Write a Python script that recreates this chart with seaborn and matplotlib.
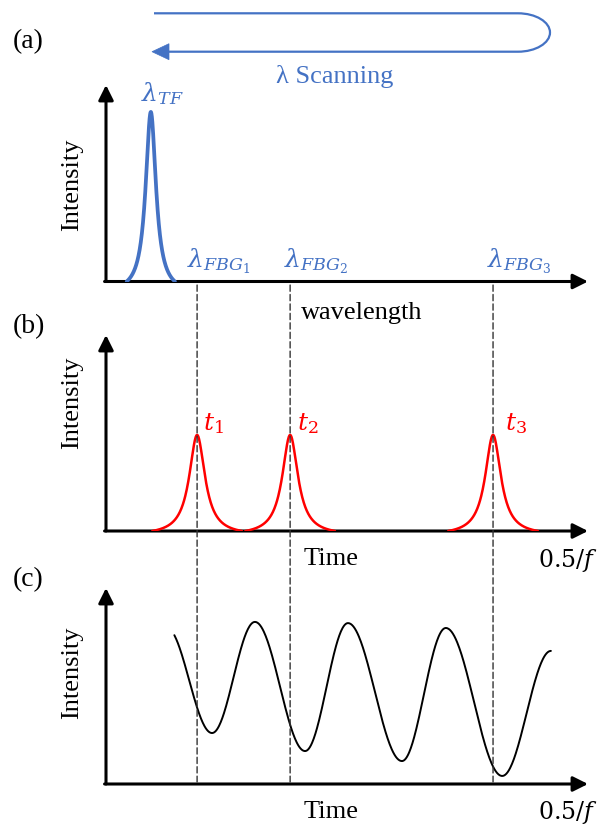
import numpy as np
import matplotlib
matplotlib.use("Agg")
import matplotlib.pyplot as plt
import seaborn as sns
from matplotlib.patches import FancyArrowPatch, ConnectionPatch, PathPatch, Polygon
from matplotlib.path import Path
from matplotlib.transforms import Affine2D

# ---------------- data (x: fraction of the 0 .. 0.5/f sweep, y: relative intensity) -------------
tf_center = 0.093          # tunable-filter wavelength position in panel (a)
tf_height = 0.863
tf_hwhm = 0.013
tf_span = 0.050

fbg_positions = [0.189, 0.382, 0.803]
fbg_labels = [r"$\lambda_{FBG_1}$", r"$\lambda_{FBG_2}$", r"$\lambda_{FBG_3}$"]

peak_times = [0.189, 0.382, 0.803]
peak_labels = [r"$t_1$", r"$t_2$", r"$t_3$"]
peak_height = 0.49
peak_hwhm = 0.0197
peak_span = 0.093

# extrema of the interference signal in panel (c) (first one lies just before the visible start)
wave_x = [0.125, 0.220, 0.309, 0.413, 0.502, 0.614, 0.705, 0.822, 0.923]
wave_y = [0.800, 0.260, 0.827, 0.168, 0.821, 0.117, 0.796, 0.041, 0.679]
wave_start = 0.141

panel_tags = ["(a)", "(b)", "(c)"]
x_label_a = "wavelength"
x_label_bc = "Time"
x_end_label = r"$0.5/f$"
y_label = "Intensity"
scan_label = "λ Scanning"
tf_label = r"$\lambda_{TF}$"

BLUE = "#4472C4"
RED = "#FF0000"

# ---------------- helpers -------------
def lorentz_peak(center, height, hwhm, span, n=300):
    x = np.linspace(center - span, center + span, n)
    L = 1.0 / (1.0 + ((x - center) / hwhm) ** 2)
    Lend = 1.0 / (1.0 + (span / hwhm) ** 2)
    return x, height * (L - Lend) / (1.0 - Lend)


def cosine_path(xs, ys, n=80):
    X, Y = [], []
    for i in range(len(xs) - 1):
        t = np.linspace(0, 1, n)
        X.append(xs[i] + (xs[i + 1] - xs[i]) * t)
        Y.append(ys[i] + (ys[i + 1] - ys[i]) * (1 - np.cos(np.pi * t)) / 2)
    X = np.concatenate(X)
    Y = np.concatenate(Y)
    return X, Y


sns.set_theme(style="white")
plt.rcParams["font.family"] = ["Liberation Serif", "DejaVu Serif"]
plt.rcParams["mathtext.fontset"] = "dejavuserif"
plt.rcParams["text.color"] = "black"

W, H = 602, 831
fig = plt.figure(figsize=(W / 100, H / 100), dpi=100)

x0, x1 = 106, 588
panels = [(85, 281.5), (335, 531), (588, 784)]   # top, base in pixels


def rect(top, base):
    return [x0 / W, 1 - base / H, (x1 - x0) / W, (base - top) / H]


axes = []
for top, base in panels:
    ax = fig.add_axes(rect(top, base))
    ax.set_xlim(0, 1)
    ax.set_ylim(0, 1)
    ax.axis("off")
    ax.patch.set_alpha(0)
    axes.append(ax)
ax_a, ax_b, ax_c = axes


def axis_arrows(ax):
    kw = dict(arrowstyle="-|>,head_length=9,head_width=4.5", mutation_scale=1,
              lw=2.2, color="black", shrinkA=0, shrinkB=0,
              transform=ax.transAxes, clip_on=False, zorder=2)
    ax.add_patch(FancyArrowPatch((-0.003, 0), (1, 0), **kw))
    ax.add_patch(FancyArrowPatch((0, 0), (0, 1), **kw))


for ax in axes:
    axis_arrows(ax)

# panel (a): tunable filter
x, y = lorentz_peak(tf_center, tf_height, tf_hwhm, tf_span)
sns.lineplot(x=x, y=y, ax=ax_a, color=BLUE, lw=2.7, estimator=None, sort=False, zorder=3)

# panel (b): reflected FBG pulses in time
for c in peak_times:
    x, y = lorentz_peak(c, peak_height, peak_hwhm, peak_span)
    sns.lineplot(x=x, y=y, ax=ax_b, color=RED, lw=1.8, estimator=None, sort=False, zorder=3)

# panel (c): interference signal
X, Y = cosine_path(wave_x, wave_y)
m = X >= wave_start
sns.lineplot(x=X[m], y=Y[m], ax=ax_c, color="black", lw=1.4, estimator=None, sort=False, zorder=3)

# dashed guide lines across the panels
for xp in fbg_positions:
    con = ConnectionPatch(xyA=(xp, -0.018), coordsA=ax_a.transData,
                          xyB=(xp, 0.01), coordsB=ax_c.transData,
                          color="#333333", lw=1.0, linestyle=(0, (4.5, 2.3)))
    fig.add_artist(con)

# ---------------- text -------------
def ftext(x, y, s, **kw):
    fig.text(x / W, 1 - y / H, s, **kw)

SER = 19
ftext(13, 42, panel_tags[0], fontsize=20, va="center", ha="left")
ftext(13, 327, panel_tags[1], fontsize=20, va="center", ha="left")
ftext(13, 580, panel_tags[2], fontsize=20, va="center", ha="left")

for yc in (185, 403, 673):
    ftext(72, yc, y_label, fontsize=SER, rotation=90, va="center", ha="center")

ftext(301, 313, x_label_a, fontsize=SER, va="center", ha="left")
ftext(304, 565, x_label_bc, fontsize=SER, va="baseline", ha="left")
ftext(304, 818, x_label_bc, fontsize=SER, va="baseline", ha="left")
ftext(598, 567, x_end_label, fontsize=17, va="baseline", ha="right")
ftext(598, 819, x_end_label, fontsize=17, va="baseline", ha="right")

ftext(335, 77, scan_label, fontsize=SER, va="center", ha="center", color=BLUE)
ftext(141, 94, tf_label, fontsize=18, va="center", ha="left", color=BLUE)

for xl, s in zip([187, 284, 487], fbg_labels):
    ftext(xl, 261, s, fontsize=18, va="center", ha="left", color=BLUE)

for xl, s in zip([203, 297, 505], peak_labels):
    ftext(xl, 424, s, fontsize=18, va="center", ha="left", color=RED)

# ---------------- scanning arrow (decoration) -------------
trans = Affine2D().scale(1 / W, -1 / H).translate(0, 1) + fig.transFigure
top_y, bot_y, cy = 13.3, 51.7, 32.5
xs_, rx, ry, k = 518, 32, 19.2, 0.5523
verts = [(154, top_y), (xs_, top_y),
         (xs_ + k * rx, top_y), (xs_ + rx, cy - k * ry), (xs_ + rx, cy),
         (xs_ + rx, cy + k * ry), (xs_ + k * rx, bot_y), (xs_, bot_y),
         (168, bot_y)]
codes = [Path.MOVETO, Path.LINETO,
         Path.CURVE4, Path.CURVE4, Path.CURVE4,
         Path.CURVE4, Path.CURVE4, Path.CURVE4,
         Path.LINETO]
fig.add_artist(PathPatch(Path(verts, codes), fill=False, edgecolor=BLUE, lw=1.6, transform=trans))
fig.add_artist(Polygon([(152, bot_y), (169, bot_y - 8), (169, bot_y + 8)], closed=True,
                       facecolor=BLUE, edgecolor=BLUE, lw=0.5, transform=trans))

fig.savefig("out.png", dpi=100)
